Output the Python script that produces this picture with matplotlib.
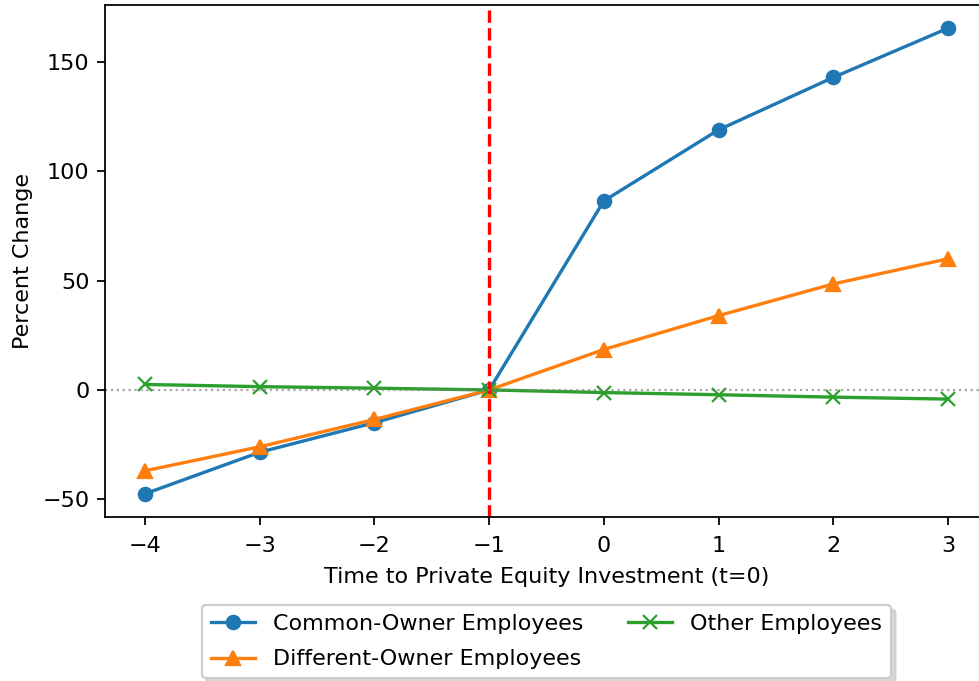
import matplotlib
matplotlib.use("Agg")
import matplotlib.pyplot as plt

years = [-4, -3, -2, -1, 0, 1, 2, 3]
common_owner = [-47.5, -28.5, -15.0, 0.0, 86.5, 119.0, 143.0, 165.5]
different_owner = [-37.0, -26.0, -13.5, 0.0, 18.5, 34.0, 48.5, 60.0]
other = [2.5, 1.5, 0.8, 0.0, -1.2, -2.2, -3.3, -4.2]

labels = ["Common-Owner Employees", "Different-Owner Employees", "Other Employees"]

DPI = 160
fig = plt.figure(figsize=(979 / DPI, 681 / DPI), dpi=DPI)
W, H = 979, 681
left, right, top, bottom = 105, 988, 5, 517
ax = fig.add_axes([left / W, (H - bottom) / H, (right - left) / W, (bottom - top) / H])

ax.plot(years, common_owner, marker="o", color="#1f77b4", label=labels[0])
ax.plot(years, different_owner, marker="^", color="#ff7f0e", label=labels[1])
ax.plot(years, other, marker="x", color="#2ca02c", label=labels[2])
ax.axvline(-1, color="red", linestyle="--")
ax.axhline(0, color="gray", linestyle=":", linewidth=1, alpha=0.7)

ax.tick_params(axis="x", pad=5)
ax.set_xlabel("Time to Private Equity Investment (t=0)", labelpad=5)
ax.set_ylabel("Percent Change")
ax.legend(loc="upper center", bbox_to_anchor=(0.5, -0.15), ncol=2, fancybox=True,
          labelspacing=0.7, shadow={"color": "0.75", "alpha": 0.6})

fig.savefig("out.png", dpi=DPI)
